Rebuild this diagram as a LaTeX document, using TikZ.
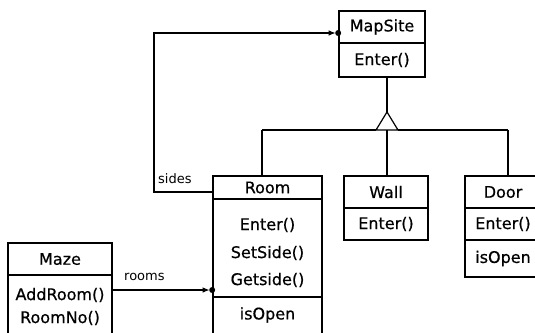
\documentclass[tikz,border=0pt]{standalone}
\usepackage{fontspec}
\setmainfont{DejaVu Sans}
\newfontfamily\heavyfont[FakeBold=0.6]{DejaVu Sans}
\usetikzlibrary{arrows.meta}
\tikzset{
  cls/.style={draw, line width=1.6pt, inner sep=0pt, font=\heavyfont\fontsize{16}{18}\selectfont},
  txt/.style={inner sep=0pt, font=\heavyfont\fontsize{16}{18}\selectfont},
  lbl/.style={inner sep=0pt, font=\fontsize{13}{15}\selectfont, anchor=west},
  conn/.style={line width=1.2pt},
  assoc/.style={line width=1.2pt, -{Latex[length=7pt,width=5.5pt]}},
  dot/.style={circle, fill, inner sep=0pt, minimum size=6pt}
}
\begin{document}
\begin{tikzpicture}[x=1pt,y=-1pt]
\path[use as bounding box] (0,0) rectangle (535,332);
\clip (0,0) rectangle (535,332);
% MapSite
\node[cls, minimum width=86, minimum height=32] (msH) at (382,27) {MapSite};
\node[cls, minimum width=86, minimum height=34] (msO) at (382,60) {Enter()};
% Room
\node[cls, minimum width=109, minimum height=23] (roomH) at (267.5,187.5) {Room};
\node[cls, minimum width=109, minimum height=98] (roomO) at (267.5,248) {};
\node[cls, minimum width=109, minimum height=45] (roomA) at (267.5,319.5) {};
\node[txt] (rE) at (267.5,225) {Enter()};
\node[txt] (rS) at (267.5,253) {SetSide()};
\node[txt] (rG) at (267.5,280) {Getside()};
\node[txt] (rI) at (267.5,315) {isOpen};
% Wall
\node[cls, minimum width=84, minimum height=32] (wallH) at (386,192) {Wall};
\node[cls, minimum width=84, minimum height=32] (wallO) at (386,224) {Enter()};
% Door
\node[cls, minimum width=76, minimum height=32] (doorH) at (503,192) {Door};
\node[cls, minimum width=76, minimum height=32] (doorO) at (503,224) {Enter()};
\node[cls, minimum width=76, minimum height=37] (doorA) at (503,258.5) {isOpen};
% Maze
\node[cls, minimum width=104, minimum height=32] (mazeH) at (60,259) {Maze};
\node[cls, minimum width=104, minimum height=70] (mazeO) at (60,310) {};
\node[txt] (mA) at (60,295) {AddRoom()};
\node[txt] (mR) at (60,318) {RoomNo()};
% generalization
\coordinate (apex) at (387,112);
\coordinate (base) at (387,130);
\coordinate (doorTop) at (508,176);
\draw[conn] (msO.south -| apex) -- (apex);
\draw[conn] (apex) -- (376,130) -- (398,130) -- cycle;
\draw[conn] (262,130) -- (376,130);
\draw[conn] (398,130) -- (doorTop |- base);
\draw[conn] (262,130) -- (262,176);
\draw[conn] (base) -- (wallH.north -| base);
\draw[conn] (doorTop |- base) -- (doorTop);
% sides association
\coordinate (sEnd) at ([yshift=-6pt]msH.west);
\draw[assoc] ([yshift=-4.5pt]roomH.west) -| (154,100) |- ([xshift=-2.5pt]sEnd);
\node[dot] at (sEnd) {};
\node[lbl] (sides) at (158,179) {sides};
% rooms association
\coordinate (rEnd) at (roomO.west |- 0,290);
\draw[assoc] (mazeO.east |- rEnd) -- ([xshift=-2.5pt]rEnd);
\node[dot] at (rEnd) {};
\node[lbl] (rooms) at (124,277) {rooms};
\end{tikzpicture}
\end{document}
